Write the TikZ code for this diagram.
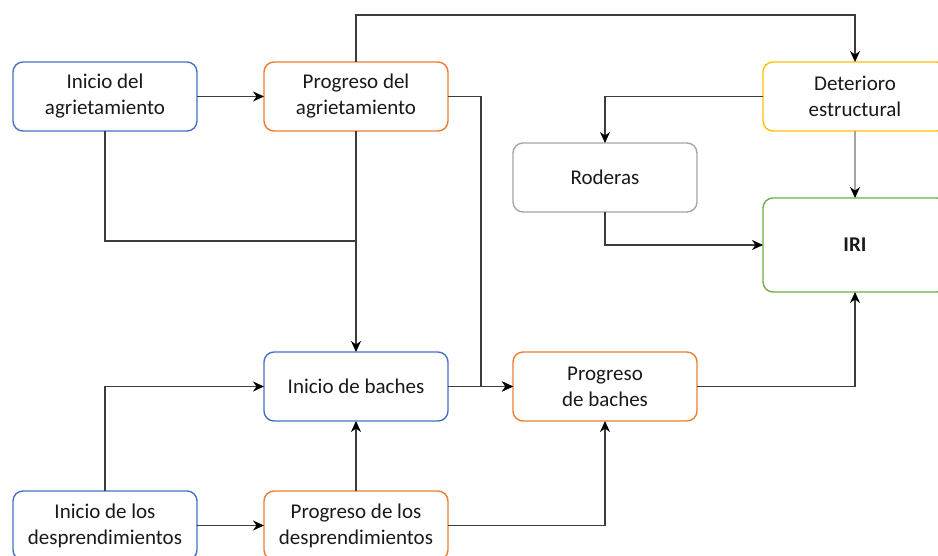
\documentclass[tikz,border=0pt]{standalone}
\usepackage{fontspec}
\setmainfont{Carlito}
\usepackage{xcolor}
\usepackage{tikz}
\usetikzlibrary{positioning, arrows.meta, calc}

\definecolor{azul}{RGB}{68,114,196}
\definecolor{naranja}{RGB}{237,125,49}
\definecolor{amarillo}{RGB}{255,192,0}
\definecolor{gris}{RGB}{165,165,165}
\definecolor{verde}{RGB}{112,173,71}
\definecolor{linea}{RGB}{60,60,60}

\begin{document}
\begin{tikzpicture}[node distance=66pt and 66pt]

			% Define styles
			\tikzset{
				box/.style={
					rectangle, draw, rounded corners=10pt, line width=1.4pt,
					minimum width=184pt, minimum height=69pt,
					inner sep=0pt, outer sep=0pt, align=center, text=black!90,
					font=\fontsize{21}{26}\selectfont
				},
				inicio/.style={box, draw=azul},
				progreso/.style={box, draw=naranja},
				deterioro/.style={box, draw=amarillo},
				roderas/.style={box, draw=gris},
				resultado/.style={box, draw=verde, minimum height=94pt, font=\fontsize{21}{26}\selectfont\bfseries},
				arrow/.style={draw=linea, line width=1.2pt, -{Stealth[length=11pt, width=10pt, inset=3.5pt, color=black]}},
				plain/.style={draw=linea, line width=1.2pt}
			}

			\useasboundingbox (0,0) rectangle (938pt,-556pt);

			% Agrietamiento (top row)
			\node (iniAgr) [inicio] at (105pt,-96.5pt) {Inicio del\\agrietamiento};
			\node (proAgr) [progreso, right=67pt of iniAgr] {Progreso del\\agrietamiento};

			% Baches
			\node (iniBac) [inicio, below=221pt of proAgr] {Inicio de baches};
			\node (proBac) [progreso, right=65pt of iniBac] {Progreso\\de baches};

			% Desprendimientos (bottom row)
			\node (proDes) [progreso, below=70pt of iniBac] {Progreso de los\\desprendimientos};
			\node (iniDes) [inicio, left=67pt of proDes] {Inicio de los\\desprendimientos};

			% Roderas, deterioro and IRI
			\node (rod)    [roderas, above=140pt of proBac] {Roderas};
			\node (deter)  [deterioro, anchor=west] at ([xshift=66pt]rod.east |- proAgr.east) {Deterioro\\estructural};
			\node (iri)    [resultado, below=67pt of deter] {IRI};

			\coordinate (cruce) at ([yshift=-110pt]proAgr.south);

			% Arrows (agrietamiento)
			\draw[arrow] (iniAgr) -- (proAgr);
			\draw[arrow] (proAgr.north) -- ++(0,47pt) -| (deter.north);
			\draw[arrow] (proAgr.east) -- ++(33pt,0) |- (proBac.west);
			\draw[plain] (iniAgr.south) |- (cruce);
			\draw[arrow] (proAgr) -- (iniBac);

			% Arrows (baches)
			\draw[arrow] (iniBac) -- (proBac);
			\draw[arrow] (proBac.east) -| (iri.south);

			% Arrows (deterioro, roderas)
			\draw[arrow] (deter.west) -| (rod.north);
			\draw[arrow, draw=gris] (deter) -- (iri);
			\draw[arrow] (rod.south) |- (iri.west);

			% Arrows (desprendimientos)
			\draw[arrow] (iniDes.north) |- (iniBac.west);
			\draw[arrow] (iniDes) -- (proDes);
			\draw[arrow] (proDes) -- (iniBac);
			\draw[arrow] (proDes.east) -| (proBac.south);

		\end{tikzpicture}
\end{document}
